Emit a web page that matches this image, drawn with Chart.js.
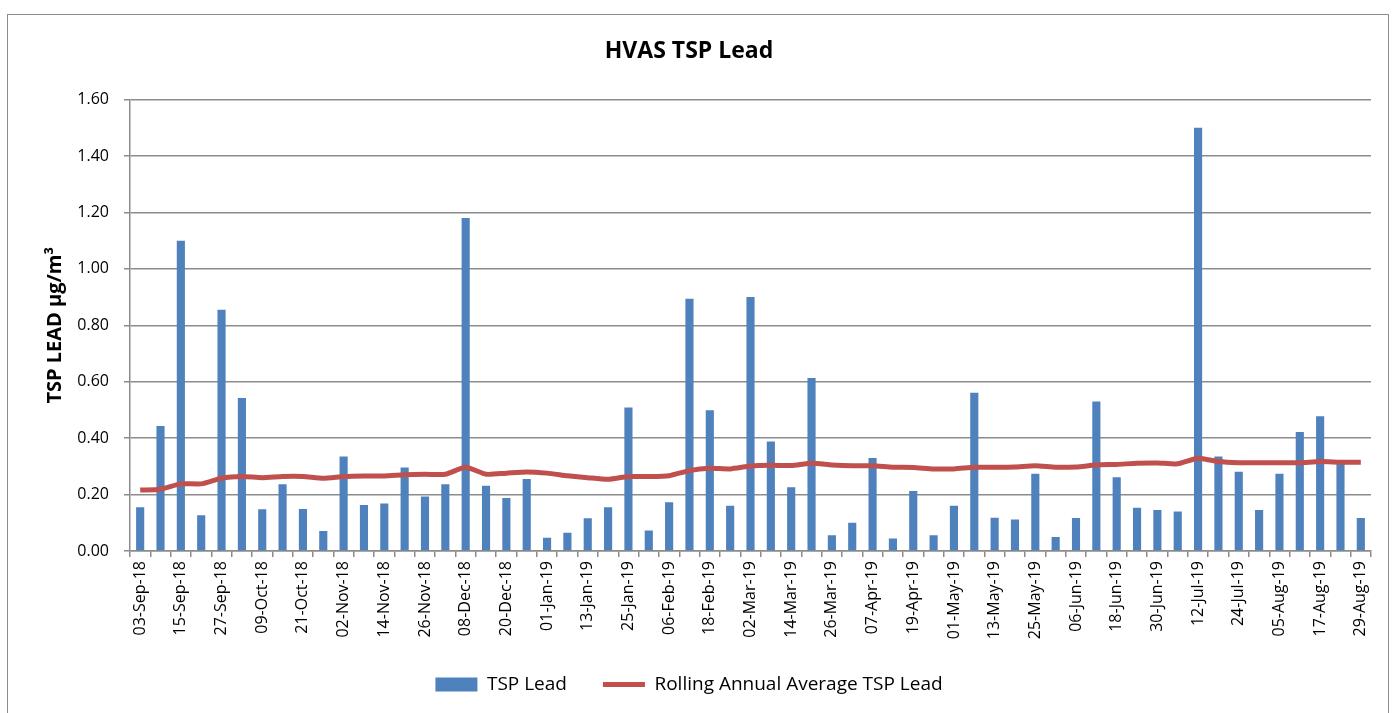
<!DOCTYPE html>
<html>
<head>
<meta charset="utf-8">
<script src="https://cdn.jsdelivr.net/npm/chart.js@4/dist/chart.umd.min.js"></script>
<style>
  body { margin: 0; background: #fff; overflow: hidden; }
  #frame { position: absolute; left: 7px; top: 14px; width: 1382px; height: 720px; border: 1.5px solid #8c8c8c; box-sizing: border-box; }
  #c { position: absolute; left: 0; top: 0; }
</style>
</head>
<body>
<div id="frame"></div>
<canvas id="c" width="1397" height="713"></canvas>
<script>
// sampling dates, one every six days
var dates = [
  '03-Sep-18','09-Sep-18','15-Sep-18','21-Sep-18','27-Sep-18',
  '03-Oct-18','09-Oct-18','15-Oct-18','21-Oct-18','27-Oct-18',
  '02-Nov-18','08-Nov-18','14-Nov-18','20-Nov-18','26-Nov-18',
  '02-Dec-18','08-Dec-18','14-Dec-18','20-Dec-18','26-Dec-18',
  '01-Jan-19','07-Jan-19','13-Jan-19','19-Jan-19','25-Jan-19','31-Jan-19',
  '06-Feb-19','12-Feb-19','18-Feb-19','24-Feb-19',
  '02-Mar-19','08-Mar-19','14-Mar-19','20-Mar-19','26-Mar-19',
  '01-Apr-19','07-Apr-19','13-Apr-19','19-Apr-19','25-Apr-19',
  '01-May-19','07-May-19','13-May-19','19-May-19','25-May-19','31-May-19',
  '06-Jun-19','12-Jun-19','18-Jun-19','24-Jun-19','30-Jun-19',
  '06-Jul-19','12-Jul-19','18-Jul-19','24-Jul-19','30-Jul-19',
  '05-Aug-19','11-Aug-19','17-Aug-19','23-Aug-19','29-Aug-19'
];

var tspLead = [
  0.155, 0.443, 1.100, 0.127, 0.855, 0.542, 0.148, 0.237, 0.149, 0.071,
  0.335, 0.163, 0.168, 0.296, 0.193, 0.237, 1.180, 0.231, 0.188, 0.255,
  0.047, 0.065, 0.116, 0.155, 0.509, 0.073, 0.173, 0.894, 0.499, 0.160,
  0.900, 0.388, 0.226, 0.613, 0.056, 0.100, 0.330, 0.044, 0.213, 0.056,
  0.160, 0.561, 0.118, 0.112, 0.274, 0.050, 0.117, 0.530, 0.261, 0.153,
  0.145, 0.140, 1.500, 0.335, 0.281, 0.145, 0.274, 0.422, 0.478, 0.311,
  0.117
];

var rollingAvg = [
  0.216, 0.219, 0.238, 0.238, 0.258, 0.264, 0.260, 0.264, 0.264, 0.258,
  0.264, 0.266, 0.266, 0.270, 0.272, 0.272, 0.297, 0.272, 0.276, 0.280,
  0.276, 0.267, 0.260, 0.254, 0.264, 0.264, 0.267, 0.285, 0.293, 0.291,
  0.301, 0.304, 0.303, 0.311, 0.305, 0.302, 0.302, 0.297, 0.296, 0.291,
  0.291, 0.297, 0.297, 0.298, 0.302, 0.297, 0.298, 0.305, 0.307, 0.311,
  0.312, 0.309, 0.329, 0.317, 0.313, 0.313, 0.313, 0.313, 0.317, 0.315,
  0.315
];

var yTicks = [0, 0.2, 0.4, 0.6, 0.8, 1.0, 1.2, 1.4, 1.6];

var FONT = '"Open Sans", Lato, sans-serif';
var GRID = '#8c8c8c';
Chart.defaults.font.family = FONT;
Chart.defaults.color = '#000';

new Chart(document.getElementById('c').getContext('2d'), {
  type: 'bar',
  data: {
    labels: dates,
    datasets: [
      {
        type: 'bar',
        label: 'TSP Lead',
        data: tspLead,
        backgroundColor: '#4F81BD',
        barPercentage: 0.4,
        categoryPercentage: 1.0,
        pointStyle: 'rect',
        order: 1
      },
      {
        type: 'line',
        label: 'Rolling Annual Average TSP Lead',
        data: rollingAvg,
        borderColor: '#C0504D',
        backgroundColor: '#C0504D',
        borderWidth: 5,
        pointRadius: 0,
        tension: 0.2,
        pointStyle: 'line',
        order: 0
      }
    ]
  },
  options: {
    responsive: false,
    animation: false,
    layout: { padding: { left: 7, right: 26, top: 0, bottom: 9 } },
    plugins: {
      title: {
        display: true,
        text: 'HVAS TSP Lead',
        font: { size: 23, weight: 'bold' },
        color: '#000',
        padding: { top: 38, bottom: 34 }
      },
      legend: {
        position: 'bottom',
        labels: {
          usePointStyle: true,
          pointStyleWidth: 42,
          boxHeight: 14,
          padding: 36,
          font: { size: 19 },
          color: '#000',
          sort: function(a, b) { return a.datasetIndex - b.datasetIndex; }
        }
      },
      tooltip: { enabled: false }
    },
    scales: {
      x: {
        grid: { display: true, drawOnChartArea: false, drawTicks: true, tickLength: 6, color: GRID, lineWidth: 1.5, offset: true },
        border: { display: true, color: GRID, width: 1.5 },
        ticks: {
          autoSkip: false,
          minRotation: 90,
          maxRotation: 90,
          padding: 4,
          font: { size: 16 },
          color: '#000',
          callback: function(v, i) { return i % 2 === 0 ? this.getLabelForValue(v) : ''; }
        },
        afterFit: function(s) { s.height = 88; }
      },
      y: {
        min: 0,
        max: 1.6,
        afterBuildTicks: function(s) { s.ticks = yTicks.map(function(v) { return { value: v }; }); },
        grid: { color: GRID, lineWidth: 1.5, tickLength: 6 },
        border: { display: true, color: GRID, width: 1.5 },
        ticks: {
          padding: 15,
          font: { size: 16 },
          color: '#000',
          callback: function(v) { return v.toFixed(2); }
        },
        title: {
          display: true,
          text: 'TSP LEAD µg/m³',
          font: { size: 20, weight: 'bold' },
          color: '#000',
          padding: { top: 36, bottom: 0 }
        },
        afterFit: function(s) { s.width = 123; }
      }
    }
  }
});
</script>
</body>
</html>
